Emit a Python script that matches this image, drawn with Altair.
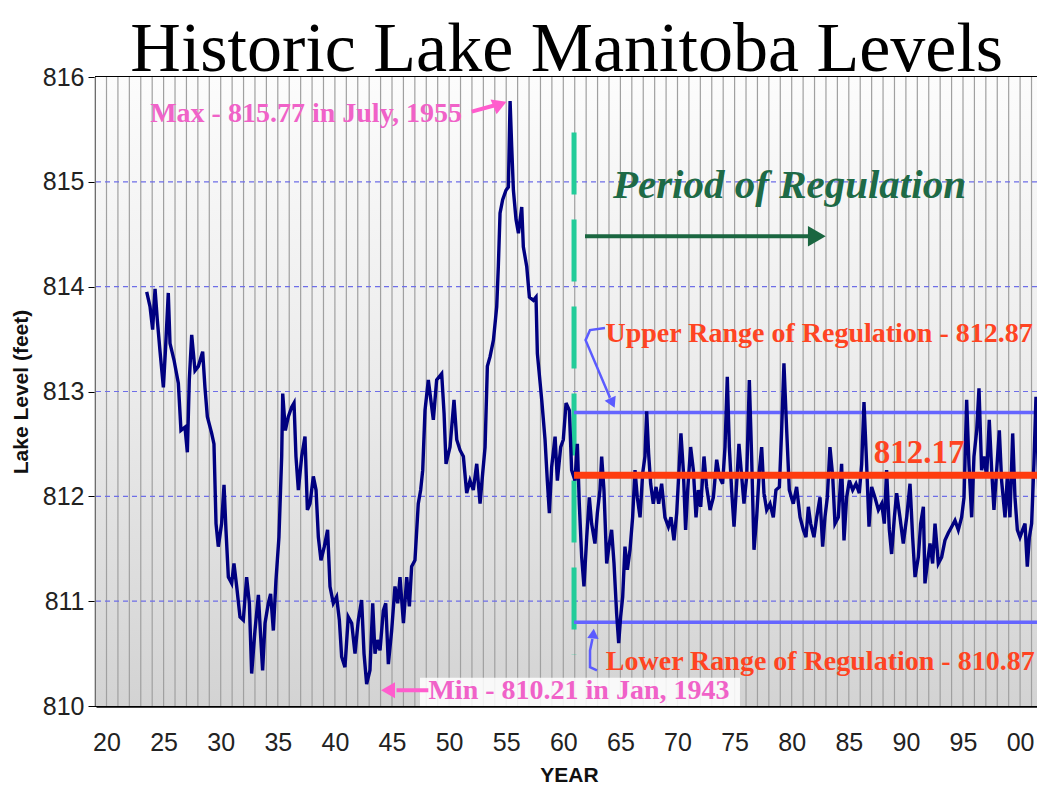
import altair as alt
import pandas as pd

# ---------------- data ----------------
year = [
    1923.52, 1923.81, 1924.04, 1924.25, 1924.45, 1924.68, 1924.98, 1925.18, 1925.41, 1925.56,
    1925.91, 1926.29, 1926.52, 1926.87, 1927.08, 1927.25, 1927.46, 1927.75, 1928.04, 1928.42,
    1928.62, 1928.83, 1929.21, 1929.41, 1929.59, 1929.79, 1930.08, 1930.29, 1930.46, 1930.67,
    1930.96, 1931.16, 1931.40, 1931.69, 1931.98, 1932.27, 1932.51, 1932.71, 1933.00, 1933.30,
    1933.50, 1933.67, 1933.88, 1934.17, 1934.37, 1934.61, 1934.84, 1935.10, 1935.34, 1935.43,
    1935.66, 1935.92, 1936.21, 1936.42, 1936.59, 1936.80, 1937.09, 1937.38, 1937.59, 1937.82,
    1938.11, 1938.35, 1938.55, 1938.78, 1939.07, 1939.36, 1939.57, 1939.86, 1940.15, 1940.39,
    1940.59, 1940.88, 1941.17, 1941.47, 1941.76, 1942.05, 1942.34, 1942.55, 1942.78, 1943.07,
    1943.31, 1943.51, 1943.72, 1943.95, 1944.24, 1944.45, 1944.68, 1944.97, 1945.26, 1945.50,
    1945.70, 1946.00, 1946.29, 1946.52, 1946.72, 1947.01, 1947.30, 1947.51, 1947.69, 1947.89,
    1948.18, 1948.62, 1948.91, 1949.35, 1949.56, 1949.73, 1950.08, 1950.43, 1950.67, 1950.96,
    1951.25, 1951.54, 1951.83, 1952.12, 1952.42, 1952.71, 1952.94, 1953.15, 1953.35, 1953.58,
    1953.88, 1954.17, 1954.31, 1954.46, 1954.69, 1954.98, 1955.19, 1955.34, 1955.48, 1955.63,
    1955.86, 1956.07, 1956.36, 1956.50, 1956.80, 1957.03, 1957.38, 1957.61, 1957.73, 1958.11,
    1958.40, 1958.60, 1958.78, 1958.98, 1959.28, 1959.48, 1959.77, 1960.00, 1960.24, 1960.53,
    1960.73, 1961.02, 1961.23, 1961.40, 1961.61, 1961.81, 1962.05, 1962.28, 1962.48, 1962.77,
    1962.98, 1963.21, 1963.36, 1963.56, 1963.80, 1964.03, 1964.23, 1964.44, 1964.67, 1964.85,
    1965.02, 1965.20, 1965.40, 1965.61, 1965.84, 1966.07, 1966.28, 1966.48, 1966.72, 1966.95,
    1967.15, 1967.30, 1967.47, 1967.65, 1967.88, 1968.12, 1968.35, 1968.61, 1968.90, 1969.20,
    1969.43, 1969.69, 1969.93, 1970.16, 1970.30, 1970.51, 1970.71, 1970.89, 1971.15, 1971.39,
    1971.62, 1971.82, 1972.03, 1972.32, 1972.55, 1972.85, 1973.14, 1973.43, 1973.66, 1973.95,
    1974.16, 1974.36, 1974.54, 1974.74, 1974.95, 1975.18, 1975.38, 1975.62, 1975.82, 1976.06,
    1976.29, 1976.49, 1976.70, 1976.93, 1977.17, 1977.37, 1977.57, 1977.81, 1978.10, 1978.39,
    1978.62, 1978.92, 1979.12, 1979.32, 1979.56, 1979.79, 1980.14, 1980.43, 1980.73, 1981.02,
    1981.25, 1981.46, 1981.66, 1981.95, 1982.19, 1982.48, 1982.71, 1982.91, 1983.12, 1983.35,
    1983.59, 1983.79, 1984.08, 1984.37, 1984.58, 1984.81, 1985.05, 1985.34, 1985.63, 1985.92,
    1986.13, 1986.33, 1986.56, 1986.77, 1987.00, 1987.29, 1987.59, 1987.88, 1988.11, 1988.31,
    1988.55, 1988.75, 1988.99, 1989.19, 1989.48, 1989.77, 1990.07, 1990.36, 1990.59, 1990.80,
    1991.09, 1991.29, 1991.53, 1991.67, 1991.88, 1992.11, 1992.34, 1992.55, 1992.84, 1993.13,
    1993.42, 1993.71, 1994.01, 1994.30, 1994.59, 1994.88, 1995.09, 1995.32, 1995.52, 1995.76,
    1995.96, 1996.20, 1996.40, 1996.63, 1996.84, 1997.07, 1997.30, 1997.51, 1997.71, 1997.95,
    1998.18, 1998.38, 1998.68, 1998.88, 1999.11, 1999.35, 1999.55, 1999.76, 1999.99, 2000.22,
    2000.43, 2000.63, 2000.81, 2001.01, 2001.21, 2001.39, 2001.59, 2001.74,
]
level = [
    813.95, 813.81, 813.59, 813.98, 813.68, 813.39, 813.04, 813.43, 813.94, 813.46,
    813.30, 813.08, 812.63, 812.66, 812.42, 813.11, 813.54, 813.20, 813.24, 813.38,
    813.04, 812.76, 812.60, 812.50, 811.74, 811.52, 811.74, 812.11, 811.68, 811.23,
    811.17, 811.36, 811.14, 810.85, 810.82, 811.23, 810.98, 810.31, 810.72, 811.06,
    810.66, 810.34, 810.79, 810.98, 811.07, 810.72, 811.20, 811.61, 812.38, 812.98,
    812.63, 812.76, 812.85, 812.89, 812.38, 812.06, 812.38, 812.57, 811.87, 811.93,
    812.19, 812.06, 811.61, 811.39, 811.52, 811.68, 811.14, 810.98, 811.04, 810.82,
    810.47, 810.37, 810.85, 810.79, 810.50, 810.82, 811.01, 810.50, 810.21, 810.34,
    810.98, 810.50, 810.63, 810.53, 810.91, 810.98, 810.40, 810.72, 811.14, 810.98,
    811.23, 810.79, 811.23, 810.95, 811.33, 811.39, 811.93, 812.06, 812.25, 812.82,
    813.11, 812.73, 813.11, 813.17, 812.79, 812.31, 812.47, 812.92, 812.54, 812.44,
    812.38, 812.03, 812.15, 812.06, 812.31, 811.93, 812.22, 812.47, 813.24, 813.33,
    813.49, 813.81, 814.19, 814.70, 814.83, 814.92, 814.95, 815.77, 815.34, 814.92,
    814.64, 814.51, 814.76, 814.38, 814.19, 813.90, 813.87, 813.90, 813.36, 812.92,
    812.54, 812.15, 811.84, 812.28, 812.57, 812.15, 812.47, 812.54, 812.89, 812.82,
    812.25, 812.15, 812.50, 811.93, 811.42, 811.14, 811.61, 811.99, 811.74, 811.55,
    811.84, 812.06, 812.38, 812.06, 811.36, 811.55, 811.68, 811.36, 810.88, 810.60,
    810.85, 811.04, 811.52, 811.30, 811.49, 811.80, 812.25, 811.99, 811.80, 812.22,
    812.38, 812.81, 812.41, 812.12, 811.93, 812.09, 811.93, 812.12, 811.80, 811.71,
    811.80, 811.58, 811.84, 812.31, 812.60, 812.25, 811.68, 812.06, 812.47, 812.25,
    811.80, 812.06, 811.90, 812.38, 812.09, 811.87, 811.99, 812.35, 812.19, 812.12,
    812.47, 813.14, 812.47, 812.06, 811.71, 812.12, 812.50, 812.19, 811.93, 812.19,
    813.11, 812.38, 811.49, 811.80, 812.25, 812.47, 812.03, 811.87, 811.93, 811.80,
    812.06, 812.09, 812.63, 813.27, 812.63, 812.06, 811.93, 812.09, 811.80, 811.68,
    811.61, 811.90, 811.74, 811.61, 811.80, 811.99, 811.52, 811.80, 811.99, 812.47,
    812.19, 811.74, 811.80, 812.31, 811.58, 811.99, 812.15, 812.06, 812.12, 812.03,
    812.31, 812.90, 812.31, 811.71, 812.09, 811.99, 811.87, 811.93, 811.74, 812.25,
    811.68, 811.45, 811.80, 812.03, 811.80, 811.55, 811.80, 812.12, 811.61, 811.23,
    811.42, 811.74, 811.90, 811.17, 811.36, 811.55, 811.36, 811.74, 811.36, 811.42,
    811.58, 811.65, 811.71, 811.77, 811.68, 811.80, 811.99, 812.92, 812.31, 811.80,
    812.38, 812.63, 813.03, 812.25, 812.38, 812.19, 812.73, 812.25, 811.87, 812.25,
    812.63, 812.15, 811.80, 812.19, 811.80, 812.60, 811.99, 811.68, 811.61, 811.68,
    811.74, 811.33, 811.61, 811.74, 812.31, 812.95, 812.25, 811.52,
]

title_text = "Historic Lake Manitoba Levels"
x_title = "YEAR"
y_title = "Lake Level (feet)"
x_tick_years = [1920, 1925, 1930, 1935, 1940, 1945, 1950, 1955, 1960,
                 1965, 1970, 1975, 1980, 1985, 1990, 1995, 2000]
x_tick_labels = ["20", "25", "30", "35", "40", "45", "50", "55", "60",
                 "65", "70", "75", "80", "85", "90", "95", "00"]
y_ticks = [810, 811, 812, 813, 814, 815, 816]
grid_years = list(range(1919, 2002))
grid_levels = [811, 812, 813, 814, 815]

X_DOMAIN = [1919.08, 2001.48]
Y_DOMAIN = [810, 816]

# regulation period
reg_start = 1960.94
reg_end = 2001.48
upper_level = 812.80
mean_level = 812.20
lower_level = 810.80
dash_top, dash_bottom = 815.47, 810.49

# annotation texts and anchor points
texts = pd.DataFrame({
    "x": [1960.3, 1979.8, 1982.4, 1982.5, 1991.15, 1937.48, 1961.37],
    "y": [816.057, 814.85, 813.47, 810.34, 812.32, 815.57, 810.07],
    "t": [title_text, "Period of Regulation", "Upper Range of Regulation - 812.87",
          "Lower Range of Regulation - 810.87", "812.17",
          "Max - 815.77 in July, 1955", "Min - 810.21 in Jan, 1943"],
    "kind": ["title", "period", "range", "range", "mean", "pink", "pink"],
})

# ---------------- chart ----------------
W, H = 941, 629
x_scale = alt.Scale(domain=X_DOMAIN, nice=False, zero=False)
y_scale = alt.Scale(domain=Y_DOMAIN, nice=False, zero=False)

label_expr = " : ".join(f"datum.value == {y} ? '{l}'" for y, l in zip(x_tick_years, x_tick_labels)) + " : ''"

x_axis = alt.Axis(values=x_tick_years, labelExpr=label_expr, grid=False, ticks=False,
                  domainColor="#000000", domainWidth=2.5, labelFlush=False,
                  labelFont="Liberation Sans", labelFontSize=25, labelColor="#222222",
                  labelPadding=24, title=x_title, titleFont="Liberation Sans",
                  titleFontSize=21, titleFontWeight="bold", titleColor="#111111",
                  titleX=473, titleY=69, titleAlign="center", titleBaseline="middle")
y_axis = alt.Axis(values=y_ticks, format="d", grid=False, ticks=True, tickSize=8,
                  tickColor="#000000", domainColor="#000000", domainWidth=2,
                  labelFlush=False, labelFont="Liberation Sans", labelFontSize=25,
                  labelColor="#222222", labelPadding=4, title=y_title,
                  titleFont="Liberation Sans", titleFontSize=21, titleFontWeight="bold",
                  titleColor="#111111", titleX=-75, titleY=H / 2, titleAngle=270,
                  titleAlign="center", titleBaseline="middle")


def X(field):
    return alt.X(field, scale=x_scale, axis=x_axis)


def Y(field):
    return alt.Y(field, scale=y_scale, axis=y_axis)


bg_df = pd.DataFrame({"x0": [X_DOMAIN[0]], "x1": [X_DOMAIN[1]], "y0": [Y_DOMAIN[0]], "y1": [Y_DOMAIN[1]]})
bg = alt.Chart(bg_df).mark_rect(
    fill=alt.Gradient(gradient="linear",
                      stops=[alt.GradientStop(color="#fcfcfc", offset=0),
                             alt.GradientStop(color="#ebebeb", offset=0.5),
                             alt.GradientStop(color="#d3d3d3", offset=1)],
                      x1=0, x2=0, y1=0, y2=1)
).encode(x=X("x0:Q"), x2="x1:Q", y=Y("y0:Q"), y2="y1:Q")

vgrid = alt.Chart(pd.DataFrame({"year": grid_years})).mark_rule(
    color="#a0a0a0", strokeWidth=1.2
).encode(x=X("year:Q"))

hgrid = alt.Chart(pd.DataFrame({"level": grid_levels})).mark_rule(
    color="#6e6ee8", strokeWidth=1.2, strokeDash=[5, 4]
).encode(y=Y("level:Q"))

# white box behind the Min label
minbox = alt.Chart(pd.DataFrame({"x0": [1947.45], "x1": [1975.47], "y0": [810.0], "y1": [810.27]})).mark_rect(
    fill="#ffffff", opacity=0.85
).encode(x=X("x0:Q"), x2="x1:Q", y=Y("y0:Q"), y2="y1:Q")

reg_df = pd.DataFrame({"x0": [reg_start], "x1": [reg_end], "upper": [upper_level],
                       "mean": [mean_level], "lower": [lower_level],
                       "top": [dash_top], "bottom": [dash_bottom]})
reg_base = alt.Chart(reg_df)
upper_rule = reg_base.mark_rule(color="#6565ff", strokeWidth=3.5).encode(
    x=X("x0:Q"), x2="x1:Q", y=Y("upper:Q"))
lower_rule = reg_base.mark_rule(color="#6565ff", strokeWidth=3.5).encode(
    x=X("x0:Q"), x2="x1:Q", y=Y("lower:Q"))
dash_rule = reg_base.mark_rule(color="#22cc99", strokeWidth=5, strokeDash=[62, 25]).encode(
    x=X("x0:Q"), y=Y("top:Q"), y2="bottom:Q")

line = alt.Chart(pd.DataFrame({"year": year, "level": level})).mark_line(
    color="#000080", strokeWidth=3.4, clip=True
).encode(x=X("year:Q"), y=Y("level:Q"))

mean_rule = reg_base.mark_rule(color="#ff3c0f", strokeWidth=7).encode(
    x=X("x0:Q"), x2="x1:Q", y=Y("mean:Q"))

# arrow shafts (straight)
shafts = pd.DataFrame({
    "x0": [1961.9, 1951.98, 1948.18],
    "x1": [1981.6, 1954.02, 1945.4],
    "y0": [814.48, 815.67, 810.15],
    "y1": [814.48, 815.73, 810.15],
    "c": ["#1a6640", "#ff5ccd", "#ff5ccd"],
})
shaft = alt.Chart(shafts).mark_rule(strokeWidth=4).encode(
    x=X("x0:Q"), x2="x1:Q", y=Y("y0:Q"), y2="y1:Q",
    color=alt.Color("c:N", scale=None),
)

# curved blue pointers
curves = pd.DataFrame({
    "id": ["u"] * 4 + ["l"] * 4,
    "seq": [0, 1, 2, 3, 0, 1, 2, 3],
    "x": [1963.65, 1962.34, 1961.95, 1964.09, 1962.95, 1962.34, 1962.34, 1962.55],
    "y": [813.605, 813.586, 813.49, 812.94, 810.34, 810.37, 810.53, 810.64],
})
curve = alt.Chart(curves).mark_line(color="#5b5bff", strokeWidth=2.5).encode(
    x=X("x:Q"), y=Y("y:Q"), detail="id:N", order="seq:Q")

heads = pd.DataFrame({
    "x": [1982.2, 1954.46, 1944.65, 1964.3, 1962.63],
    "y": [814.48, 815.74, 810.15, 812.89, 810.69],
    "angle": [90, 68, 270, 155, 5],
    "c": ["#1a6640", "#ff5ccd", "#ff5ccd", "#5b5bff", "#5b5bff"],
    "s": [420, 260, 260, 150, 130],
})
head = alt.Chart(heads).mark_point(shape="triangle-up", filled=True, opacity=1).encode(
    x=X("x:Q"), y=Y("y:Q"),
    angle=alt.Angle("angle:Q", scale=None), color=alt.Color("c:N", scale=None),
    size=alt.Size("s:Q", scale=None))


def text_layer(kind, weight="bold", **style):
    return alt.Chart(texts[texts["kind"] == kind]).mark_text(
        font="Liberation Serif", fontWeight=weight, align="center", baseline="alphabetic", **style
    ).encode(x=X("x:Q"), y=Y("y:Q"), text="t:N")


t_title = text_layer("title", weight="normal", fontSize=70, color="#000000")
t_period = text_layer("period", fontSize=41, fontStyle="italic", color="#1e6a46")
t_range = text_layer("range", fontSize=28, color="#ff4422")
t_mean = text_layer("mean", fontSize=33, color="#ff4422")
t_pink = text_layer("pink", fontSize=28, color="#f062c8")

chart = alt.layer(
    bg, vgrid, hgrid, minbox, dash_rule, upper_rule, lower_rule, line, mean_rule,
    shaft, curve, head, t_title, t_period, t_range, t_mean, t_pink,
).properties(
    width=W, height=H,
    autosize=alt.AutoSizeParams(type="none"),
    padding={"left": 88, "top": 69, "right": 0, "bottom": 78},
).configure_view(stroke="#000000", strokeWidth=2)

chart.save("out.html", embed_options={"renderer": "svg", "actions": False})
